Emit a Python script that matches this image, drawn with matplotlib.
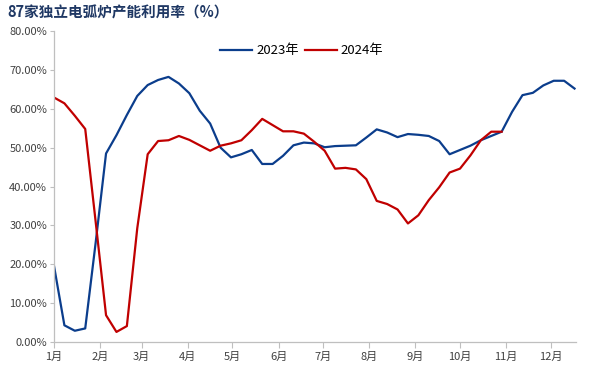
import matplotlib
matplotlib.use("Agg")
import matplotlib.pyplot as plt
import pandas as pd

plt.rcParams["font.family"] = ["Noto Sans CJK SC", "DejaVu Sans"]

# Weekly capacity utilisation (%) of 87 independent EAF mills
util_2023 = [19.6, 4.3, 2.9, 3.5, 25.5, 48.5, 53.2, 58.4, 63.3, 66.1,
             67.4, 68.2, 66.5, 64.0, 59.5, 56.2, 50.0, 47.5, 48.3, 49.4,
             45.8, 45.8, 47.9, 50.6, 51.3, 51.1, 50.1, 50.4, 50.5, 50.6,
             52.6, 54.7, 53.9, 52.7, 53.5, 53.3, 53.0, 51.7, 48.3, 49.4,
             50.5, 51.9, 53.0, 54.1, 59.2, 63.5, 64.1, 66.0, 67.2, 67.2,
             65.2]
util_2024 = [62.9, 61.4, 58.2, 54.8, 31.0, 6.9, 2.6, 4.1, 29.3, 48.3,
             51.7, 51.9, 53.0, 52.0, 50.6, 49.2, 50.5, 51.1, 51.9, 54.5,
             57.4, 55.8, 54.2, 54.2, 53.6, 51.5, 49.2, 44.6, 44.8, 44.4,
             41.9, 36.3, 35.5, 34.1, 30.5, 32.6, 36.5, 39.8, 43.6, 44.6,
             48.0, 51.9, 54.1, 54.1]
month_labels = ["1月", "2月", "3月", "4月", "5月", "6月",
                "7月", "8月", "9月", "10月", "11月", "12月"]
y_ticks = [0, 10, 20, 30, 40, 50, 60, 70, 80]

# both years drawn on one calendar axis, one point per week
weeks_2023 = pd.date_range("2023-01-01", periods=len(util_2023), freq="7D")
weeks_2024 = pd.date_range("2023-01-01", periods=len(util_2024), freq="7D")
month_starts = pd.date_range("2023-01-01", periods=12, freq="MS")

blue = "#0b3d8c"
red = "#c00000"
grey = "#bfbfbf"

fig = plt.figure(figsize=(5.92, 3.90), dpi=100)
ax = fig.add_axes([0.0912, 0.123, 0.8818, 0.7975])

ax.plot(weeks_2023, util_2023, color=blue, linewidth=1.6, label="2023年")
ax.plot(weeks_2024, util_2024, color=red, linewidth=1.6, label="2024年")

ax.set_ylim(0, 80)
ax.set_xlim(pd.Timestamp("2023-01-01"), pd.Timestamp("2023-12-18"))
ax.set_yticks(y_ticks)
ax.set_yticklabels([f"{v:.2f}%" for v in y_ticks])
ax.set_xticks(month_starts)
ax.set_xticklabels(month_labels)

for side in ["top", "right"]:
    ax.spines[side].set_visible(False)
for side in ["left", "bottom"]:
    ax.spines[side].set_color(grey)
    ax.spines[side].set_linewidth(0.9)

ax.tick_params(axis="y", length=3, color=grey, labelsize=8, labelcolor="#404040", pad=2)
ax.tick_params(axis="x", length=4, color=grey, labelsize=8, labelcolor="#404040", pad=3)

ax.legend(loc="upper center", bbox_to_anchor=(0.475, 0.995), ncol=2, frameon=False,
          fontsize=9.5, handlelength=2.4, handletextpad=0.3, columnspacing=0.5)

fig.text(0.012, 0.967, "87家独立电弧炉产能利用率（%）", fontsize=10.5, fontweight="bold",
         color="#1f3864", va="center", ha="left")

fig.savefig("out.png", dpi=100)
